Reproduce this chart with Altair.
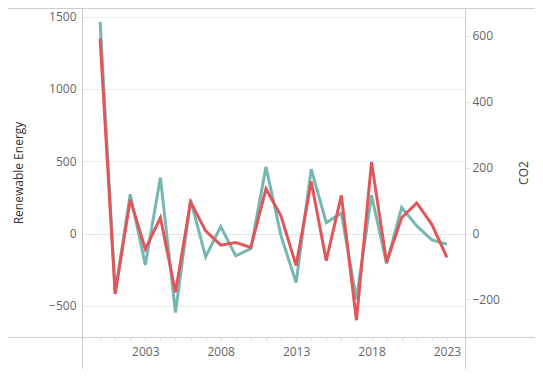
import altair as alt
import pandas as pd

years = list(range(2000, 2024))
renewable = [1463, -408, 272, -217, 387, -546, 233, -161, 48, -154, -104, 461,
             -16, -339, 445, 76, 141, -454, 265, -207, 180, 53, -44, -74]
co2 = [593, -183, 103, -47, 48, -178, 96, 8, -35, -27, -42, 136,
       53, -97, 158, -82, 116, -263, 217, -87, 48, 93, 28, -72]

left_ticks = [-500, 0, 500, 1000, 1500]
right_ticks = [-200, 0, 200, 400, 600]
label_years = [2003, 2008, 2013, 2018, 2023]

df = pd.DataFrame({"Year": years, "Renewable Energy": renewable, "CO2": co2})

W, H = 383, 329
FONT = "Open Sans"
LBL = "#666666"
BORDER = "#cccccc"

x_enc = alt.X(
    "Year:Q",
    scale=alt.Scale(domain=[1998.8, 2024.2], nice=False, zero=False),
    axis=alt.Axis(
        values=years,
        labelExpr="indexof(" + str(label_years) + ", datum.value) >= 0 ? datum.label : ''",
        format="d", title=None, domain=False, grid=False,
        tickColor="#e3e3e3", tickSize=4, labelColor=LBL, labelFont=FONT,
        labelFontSize=12, labelPadding=5, labelOverlap=False,
    ),
)

teal = alt.Chart(df).mark_line(color="#76b7b2", strokeWidth=3).encode(
    x=x_enc,
    y=alt.Y(
        "Renewable Energy:Q",
        scale=alt.Scale(domain=[-715, 1559], nice=False, zero=False),
        axis=alt.Axis(
            values=left_ticks, format="d", title="Renewable Energy", grid=True,
            gridColor={"condition": {"test": "datum.value === 0", "value": "#b0b0b0"}, "value": "#ececec"},
            gridDash={"condition": {"test": "datum.value === 0", "value": [1, 2]}, "value": []},
            domain=False, ticks=False, labelPadding=6, labelColor=LBL,
            labelFont=FONT, labelFontSize=12, titleFont=FONT, titleFontSize=12,
            titleFontWeight="normal", titleColor="#333333", titleX=-64,
            titleBaseline="middle", titleAngle=270,
        ),
    ),
)

red = alt.Chart(df).mark_line(color="#e15759", strokeWidth=3).encode(
    x=x_enc,
    y=alt.Y(
        "CO2:Q",
        scale=alt.Scale(domain=[-314, 685], nice=False, zero=False),
        axis=alt.Axis(
            orient="right", values=right_ticks, format="d", title="CO2", grid=False,
            domain=False, ticks=True, tickColor="#e3e3e3", tickSize=5,
            labelPadding=2, labelColor=LBL, labelFont=FONT, labelFontSize=12,
            titleFont=FONT, titleFontSize=12, titleFontWeight="normal",
            titleColor="#333333", titleX=58, titleBaseline="middle", titleAngle=270,
        ),
    ),
)

one = alt.Data(values=[{"a": 1}])
top_border = alt.Chart(one).mark_rule(color=BORDER, strokeWidth=1).encode(
    x=alt.value(-74), x2=alt.value(W + 70), y=alt.value(0.5))
bottom_border = alt.Chart(one).mark_rule(color=BORDER, strokeWidth=1).encode(
    x=alt.value(-74), x2=alt.value(W + 70), y=alt.value(H + 0.5))
left_border = alt.Chart(one).mark_rule(color=BORDER, strokeWidth=1).encode(
    x=alt.value(0.5), y=alt.value(0), y2=alt.value(H + 32))
right_border = alt.Chart(one).mark_rule(color=BORDER, strokeWidth=1).encode(
    x=alt.value(W + 0.5), y=alt.value(0), y2=alt.value(H + 32))

chart = alt.layer(
    top_border, bottom_border, left_border, right_border, teal, red
).resolve_scale(y="independent").properties(
    width=W, height=H,
    autosize=alt.AutoSizeParams(type="none"),
    padding={"left": 74, "top": 0, "right": 70, "bottom": 32},
).configure_view(stroke=None)

chart.save("out.html", embed_options={"renderer": "svg", "actions": False})
